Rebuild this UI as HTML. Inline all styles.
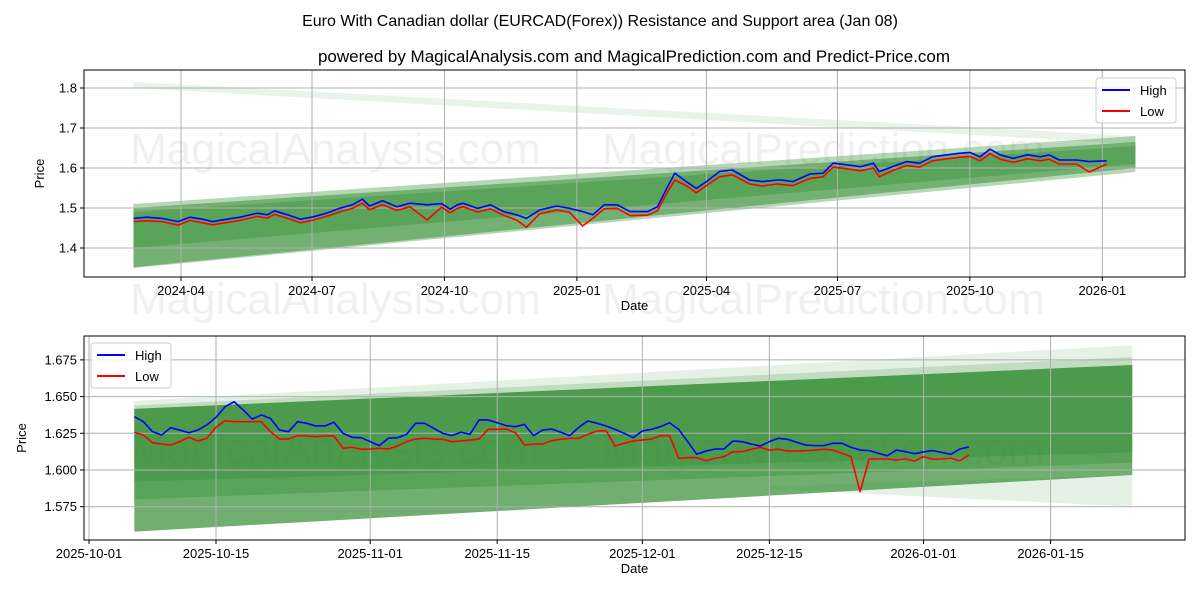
<!DOCTYPE html>
<html><head><meta charset="utf-8"><style>
body{margin:0;background:#fff;}
svg{display:block;font-family:"Liberation Sans","DejaVu Sans",sans-serif;}
</style></head><body>
<svg id="fig" width="1200" height="600" viewBox="0 0 1200 600">
<text x="600" y="26" text-anchor="middle" font-size="16">Euro With Canadian dollar (EURCAD(Forex)) Resistance and Support area (Jan 08)</text>
<text x="634" y="62" text-anchor="middle" font-size="17">powered by MagicalAnalysis.com and MagicalPrediction.com and Predict-Price.com</text>
</svg>
<script>
// ---------- top chart data (days from 2024-04-01) ----------
const topDays=[-33,-24,-13,-2,6,15,22,32,41,53,60,65,74,83,92,101,110,119,126,131,140,150,159,171,181,187,192,196,206,215,224,233,240,249,261,270,279,286,294,303,312,324,331,338,343,351,358,365,374,383,395,404,414,417,425,437,446,453,463,472,481,485,494,504,513,522,532,541,548,555,562,569,578,588,597,603,610,622,631,643];
const topHigh=[1.474,1.477,1.474,1.466,1.477,1.472,1.466,1.472,1.477,1.487,1.483,1.493,1.483,1.472,1.478,1.487,1.499,1.508,1.522,1.505,1.518,1.503,1.512,1.508,1.511,1.497,1.508,1.512,1.499,1.508,1.491,1.483,1.474,1.495,1.505,1.499,1.491,1.483,1.508,1.508,1.491,1.491,1.503,1.553,1.587,1.566,1.549,1.566,1.591,1.595,1.570,1.566,1.570,1.570,1.566,1.585,1.587,1.612,1.608,1.603,1.612,1.591,1.603,1.616,1.612,1.628,1.633,1.637,1.639,1.628,1.647,1.633,1.624,1.633,1.628,1.633,1.620,1.620,1.616,1.618];
const topLow=[1.466,1.468,1.466,1.457,1.469,1.463,1.458,1.464,1.469,1.479,1.475,1.484,1.474,1.463,1.470,1.479,1.490,1.499,1.512,1.496,1.508,1.494,1.503,1.470,1.502,1.488,1.499,1.503,1.490,1.498,1.482,1.470,1.452,1.485,1.495,1.489,1.455,1.474,1.498,1.499,1.481,1.482,1.493,1.540,1.570,1.556,1.538,1.556,1.578,1.583,1.560,1.555,1.560,1.559,1.556,1.574,1.578,1.602,1.598,1.593,1.600,1.578,1.593,1.606,1.602,1.618,1.623,1.627,1.629,1.618,1.636,1.622,1.614,1.623,1.618,1.622,1.610,1.610,1.590,1.610];
const topXTickDays=[0,91,183,275,365,456,548,640];
const topXTickLabels=["2024-04","2024-07","2024-10","2025-01","2025-04","2025-07","2025-10","2026-01"];
const topYTicks=[1.4,1.5,1.6,1.7,1.8];
// bands: [startDay,endDay, topStart, topEnd, botStart, botEnd, opacity]
const topBands=[[-33,663,1.815,1.68,1.80,1.66,0.1],[-33,663,1.51,1.68,1.35,1.59,0.35],[-33,663,1.50,1.665,1.352,1.60,0.5],[-33,663,1.49,1.655,1.40,1.61,0.35]];
// ---------- bottom chart data (days from 2025-10-01) ----------
const botStartDay=5;
const botHigh=[1.6363,1.6329,1.6261,1.6238,1.6288,1.6272,1.6254,1.6272,1.6307,1.6359,1.6431,1.6465,1.6409,1.6347,1.6375,1.6352,1.6272,1.6261,1.6329,1.6318,1.6300,1.6300,1.6325,1.6250,1.6223,1.6220,1.6193,1.6166,1.6216,1.6220,1.6243,1.6318,1.6318,1.6284,1.6250,1.6234,1.6257,1.6243,1.6341,1.6341,1.6322,1.6302,1.6295,1.6311,1.6234,1.6272,1.6279,1.6257,1.6234,1.6291,1.6334,1.6318,1.6300,1.6277,1.6250,1.6220,1.6266,1.6277,1.6295,1.6322,1.6277,1.6193,1.6107,1.6129,1.6143,1.6143,1.6198,1.6193,1.6177,1.6163,1.6193,1.6216,1.6209,1.6189,1.6170,1.6166,1.6166,1.6182,1.6182,1.6154,1.6136,1.6132,1.6114,1.6097,1.6136,1.6125,1.6111,1.6123,1.6132,1.6120,1.6107,1.6143,1.6157];
const botLow=[1.6257,1.6238,1.6186,1.6177,1.6170,1.6193,1.6223,1.6198,1.6216,1.6291,1.6336,1.6329,1.6329,1.6329,1.6329,1.6261,1.6211,1.6211,1.6234,1.6232,1.6227,1.6232,1.6232,1.6148,1.6155,1.6141,1.6143,1.6148,1.6143,1.6163,1.6193,1.6211,1.6216,1.6211,1.6209,1.6193,1.6198,1.6204,1.6211,1.6277,1.6277,1.6279,1.6254,1.6170,1.6177,1.6177,1.6200,1.6209,1.6216,1.6216,1.6243,1.6266,1.6268,1.6163,1.6182,1.6198,1.6204,1.6211,1.6234,1.6234,1.6080,1.6084,1.6084,1.6063,1.6080,1.6091,1.6125,1.6125,1.6141,1.6154,1.6136,1.6141,1.6129,1.6129,1.6132,1.6136,1.6141,1.6136,1.6114,1.6091,1.5852,1.6075,1.6075,1.6075,1.6068,1.6075,1.6061,1.6091,1.6073,1.6075,1.6080,1.6063,1.6102];
const botXTickDays=[0,14,31,45,61,75,92,106];
const botXTickLabels=["2025-10-01","2025-10-15","2025-11-01","2025-11-15","2025-12-01","2025-12-15","2026-01-01","2026-01-15"];
const botYTicks=[1.575,1.600,1.625,1.650,1.675];
const botBands=[[5,115,1.647,1.685,1.558,1.5966,0.12],[5,115,1.644,1.677,1.558,1.5966,0.2],[5,115,1.6416,1.6715,1.558,1.5966,0.55],[5,115,1.6416,1.6715,1.580,1.605,0.35],[5,115,1.6416,1.6715,1.592,1.612,0.3],[75,115,1.589,1.5966,1.587,1.575,0.12]];

const NS="http://www.w3.org/2000/svg";
const svg=document.getElementById('fig');
function mk(tag,attrs,parent){const e=document.createElementNS(NS,tag);for(const k in attrs)e.setAttribute(k,attrs[k]);(parent||svg).appendChild(e);return e;}

function chart(o){
  const g=mk('g',{});
  
  
  const X=d=>o.x0+(d-o.d0)*o.pxDay;
  const Y=v=>o.yRef-(v-o.vRef)*o.pxVal;
  o.wm.forEach(w=>{const t=mk('text',{x:w[0],y:w[1],'font-size':44,fill:'#000','fill-opacity':0.06},g);t.textContent=w[2];
    
    });
  o.bands.forEach(b=>{const p=mk('polygon',{points:`${X(b[0])},${Y(b[2])} ${X(b[1])},${Y(b[3])} ${X(b[1])},${Y(b[5])} ${X(b[0])},${Y(b[4])}`,fill:'#2e8b2e','fill-opacity':b[6]},g);
    
    });
  o.xTicks.forEach((d,i)=>{const x=X(d);
    mk('line',{x1:x,x2:x,y1:o.top,y2:o.bot,stroke:'#b0b0b0','stroke-width':1},g);
    mk('line',{x1:x,x2:x,y1:o.bot,y2:o.bot+4,stroke:'#000'},g);
    const t=mk('text',{x:x,y:o.bot+18,'text-anchor':'middle','font-size':13},g);t.textContent=o.xLabels[i];
    
    });
  o.yTicks.forEach(v=>{const y=Y(v);
    mk('line',{x1:o.left,x2:o.right,y1:y,y2:y,stroke:'#b0b0b0','stroke-width':1},g);
    mk('line',{x1:o.left-4,x2:o.left,y1:y,y2:y,stroke:'#000'},g);
    const t=mk('text',{x:o.left-7,y:y+4.5,'text-anchor':'end','font-size':13},g);t.textContent=o.yFmt(v);
    
    });
  const draw=(xs,vs,col,nm)=>{const p=mk('polyline',{points:vs.map((v,i)=>X(xs[i])+','+Y(v)).join(' '),fill:'none',stroke:col,'stroke-width':1.6,'stroke-linejoin':'round'},g);
    
    };
  draw(o.days,o.high,'#0000ff','high-line');
  draw(o.days,o.low,'#ff0000','low-line');
  mk('rect',{x:o.left,y:o.top,width:o.right-o.left,height:o.bot-o.top,fill:'none',stroke:'#000','stroke-width':1},g);
  const xl=mk('text',{x:(o.left+o.right)/2,y:o.bot+33,'text-anchor':'middle','font-size':13},g);xl.textContent='Date';
  
  
  const yl=mk('text',{x:0,y:0,'text-anchor':'middle','font-size':13,transform:`translate(${o.yTitleX},${(o.top+o.bot)/2}) rotate(-90)`},g);yl.textContent='Price';
  
  
  const L=o.legend;
  const lg=mk('g',{},g);
  
  
  mk('rect',{x:L[0],y:L[1],width:80,height:45,rx:3,fill:'#fff','fill-opacity':0.85,stroke:'#ccc'},lg);
  [['High','#0000ff'],['Low','#ff0000']].forEach((e,i)=>{const y=L[1]+12+i*21;
    mk('line',{x1:L[0]+6,x2:L[0]+34,y1:y,y2:y,stroke:e[1],'stroke-width':2},lg);
    const t=mk('text',{x:L[0]+44,y:y+5,'font-size':13},lg);t.textContent=e[0];
    
    });
}
chart({name:'top-chart',left:84,right:1185,top:70,bot:277,x0:181,d0:0,pxDay:131/91,yRef:168,vRef:1.6,pxVal:400,
  days:topDays,high:topHigh,low:topLow,bands:topBands,xTicks:topXTickDays,xLabels:topXTickLabels,yTicks:topYTicks,
  yFmt:v=>v.toFixed(1),yTitleX:44,legend:[1096,78],
  wm:[[130,164,'MagicalAnalysis.com'],[602,164,'MagicalPrediction.com'],[130,314,'MagicalAnalysis.com'],[602,314,'MagicalPrediction.com']]});
const botDays=botHigh.map((_,i)=>botStartDay+i);
chart({name:'bottom-chart',left:84,right:1185,top:336,bot:540,x0:89,d0:0,pxDay:127/14,yRef:470,vRef:1.6,pxVal:1468,
  days:botDays,high:botHigh,low:botLow,bands:botBands,xTicks:botXTickDays,xLabels:botXTickLabels,yTicks:botYTicks,
  yFmt:v=>v.toFixed(3),yTitleX:26,legend:[91,343],
  wm:[[130,464,'MagicalAnalysis.com'],[602,464,'MagicalPrediction.com']]});
</script>
</body></html>
